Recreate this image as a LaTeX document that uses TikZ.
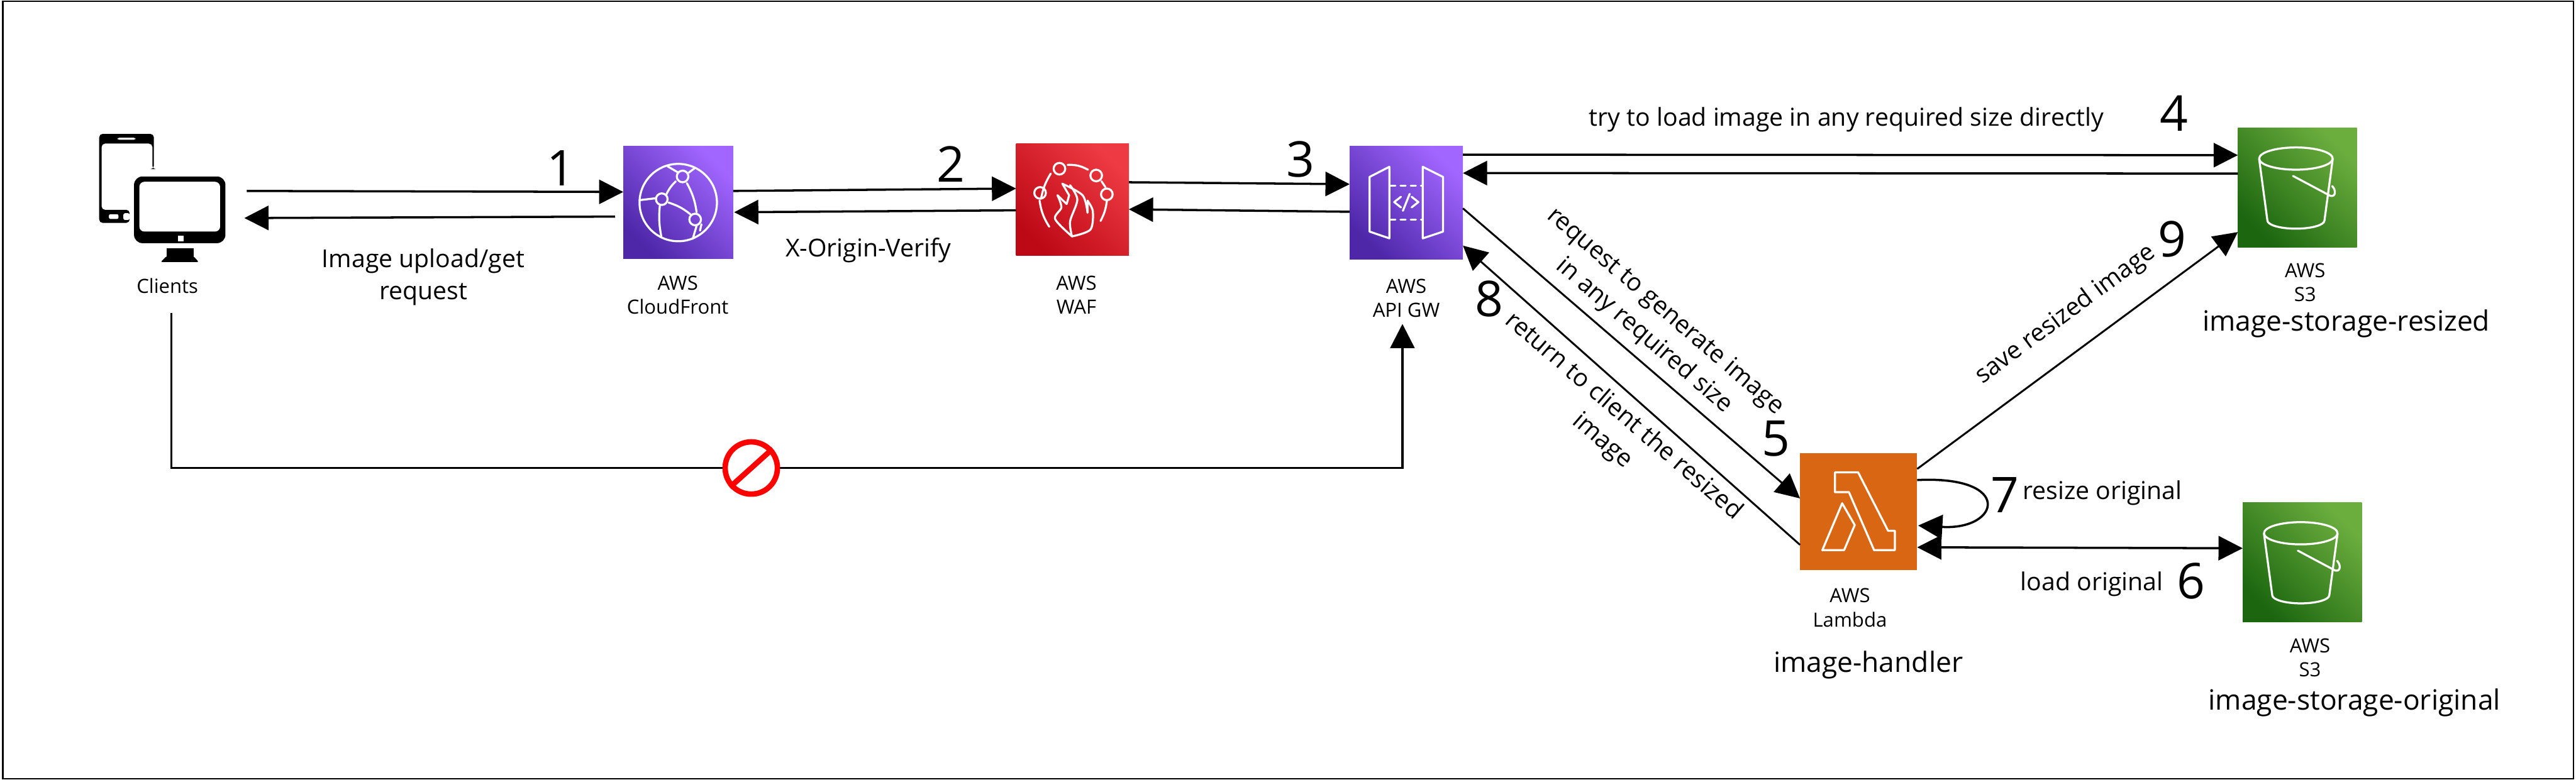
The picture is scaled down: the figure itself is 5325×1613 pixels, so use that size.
\documentclass[tikz,border=0pt]{standalone}
\usepackage{fontspec}
\setmainfont{Open Sans}
\usetikzlibrary{arrows.meta,calc}
\definecolor{purpledark}{HTML}{4D27A8}
\definecolor{purplelight}{HTML}{A166FF}
\definecolor{reddark}{HTML}{BD0816}
\definecolor{redlight}{HTML}{EE3A42}
\definecolor{greendark}{HTML}{1B660F}
\definecolor{greenlight}{HTML}{6CAE3E}
\definecolor{lambdaorange}{HTML}{D86613}
\tikzset{
  service/.style={minimum width=#1, minimum height=#1, inner sep=0pt, outer sep=0pt},
  purplebox/.style={service=2.32cm, top color=purplelight, bottom color=purpledark, shading angle=-45},
  redbox/.style={service=2.32cm, top color=redlight, bottom color=reddark, shading angle=-45},
  greenbox/.style={service=2.46cm, top color=greenlight, bottom color=greendark, shading angle=-45},
  flow/.style={line width=1.3pt, -{Triangle[length=0.5cm, width=0.5cm]}},
  slimflow/.style={flow, line width=1.1pt},
  twoway/.style={flow, {Triangle[length=0.5cm, width=0.5cm]}-{Triangle[length=0.5cm, width=0.5cm]}},
  icon/.style={white, line width=1.2pt, line cap=round, line join=round},
  numlabel/.style={font=\fontsize{29}{30}\selectfont, inner sep=0pt},
  awslabel/.style={font=\fontsize{11.5}{14.2}\selectfont, align=center, inner sep=0pt},
  flowlabel/.style={font=\fontsize{14.5}{19}\selectfont, align=center, inner sep=0pt},
  bucketlabel/.style={font=\fontsize{16.4}{19}\selectfont, inner sep=0pt},
}
\begin{document}
\begin{tikzpicture}[x=0.01cm, y=-0.01cm]
  \useasboundingbox (0,0) rectangle (5325,1613);
  \draw[line width=0.85pt] (6,2.5) rectangle (5320,1611);

  % Service boxes
  \node[service=2.61cm, minimum height=2.65cm] (clients) at (335.5,409.5) {};
  \node[purplebox, minimum width=2.27cm, minimum height=2.33cm] (cloudfront) at (1402,419) {};
  \node[redbox, minimum width=2.33cm] (waf) at (2217,413) {};
  \node[purplebox, minimum width=2.34cm, minimum height=2.34cm] (apigw) at (2907,419) {};
  \node[greenbox] (s3resized) at (4749,388) {};
  \node[service=2.42cm, fill=lambdaorange] (lambda) at (3842,1058) {};
  \node[greenbox] (s3original) at (4759,1163) {};
  \node[circle, draw=red, fill=white, line width=3.2pt, minimum size=1.08cm, inner sep=0pt] (nosign) at (1553,968) {};
  \draw[red, line width=3.2pt] (nosign.222) -- (nosign.42);

  % Clients icon
  \fill[rounded corners=2pt] (205,461) -- (205,277) -- (318,277) -- (318,350) -- (315,350) -- (315,297) -- (210,297) -- (210,434) -- (268,434) -- (268,461) -- cycle;
  \fill[white, rounded corners=1pt] (243,285) rectangle (280,289);
  \fill[white, rounded corners=1pt] (225,443) rectangle (245,453);
  \fill[white, rounded corners=1pt] (255,441) rectangle (268,455);
  \fill[white] (268,360) rectangle (277,470);
  \fill[rounded corners=5pt] (277,365) rectangle (466,503);
  \fill[white, rounded corners=3pt] (288,376) rectangle (455,479);
  \fill[white] (368,487) rectangle (379,499);
  \fill (344,514) rectangle (400,534);
  \fill[rounded corners=1pt] (332,542) -- (344,530) -- (400,530) -- (411,542) -- cycle;

  % CloudFront icon
  \begin{scope}[shift={(cloudfront.center)}]
    \draw[icon] (0,0) circle (80);
    \foreach \nx/\ny in {9/-54, -34/-7, 35/35} {
      \draw[icon] (\nx,\ny) circle (12);
    }
    \draw[icon] (-80,-5) -- (-46,-9);
    \draw[icon] (-25,-16) to[bend left=10] (-5,-44);
    \draw[icon] (-20,0) to[bend left=10] (25,24);
    \draw[icon] (18,-40) to[bend left=10] (38,20);
    \draw[icon] (-38,6) to[bend right=8] (-35,70);
    \draw[icon] (-22,-75) -- (0,-62);
    \draw[icon] (22,-62) -- (35,-72);
    \draw[icon] (38,48) -- (30,75);
    \draw[icon] (48,45) -- (45,58);
  \end{scope}

  % WAF icon
  \begin{scope}[shift={(waf.center)}]
    \foreach \nx/\ny in {-27/-64, 49/-50, -67/-14, 71/-11} {
      \draw[icon] (\nx,\ny) circle (12);
    }
    \draw[icon] (-10,-72) to[bend left=15] (32,-62);
    \draw[icon] (-45,-54) to[bend right=10] (-65,-2);
    \draw[icon] (-68,2) to[bend right=12] (-48,56);
    \draw[icon] (60,-38) -- (68,-26);
    \draw[icon] (71,3) to[bend left=10] (58,44);
    \draw[icon] plot[smooth, tension=0.5] coordinates {(-1,76) (-36,40) (-23,16) (-31,-9)};
    \draw[icon] (-31,-9) -- (-12,9) -- (-7,-9) -- (-21,-33);
    \draw[icon] plot[smooth, tension=0.5] coordinates {(-21,-33) (21,-9) (31,27)};
    \draw[icon] (31,27) -- (31,2);
    \draw[icon] plot[smooth, tension=0.5] coordinates {(31,2) (42,24) (37,62) (-1,76)};
    \draw[icon] plot[smooth, tension=0.5] coordinates {(-1,76) (-5,45) (10,0) (-5,-30)};
  \end{scope}

  % API gateway icon
  \begin{scope}[shift={(apigw.center)}]
    \draw[icon] (-76,-53) -- (-35,-74) -- (-35,74) -- (-76,60) -- cycle;
    \draw[icon] (34,-74) -- (76,-53) -- (76,60) -- (34,74) -- cycle;
    \draw[icon, dash pattern=on 3pt off 3pt] (-33,-35) -- (34,-35);
    \draw[icon, dash pattern=on 3pt off 3pt] (-33,35) -- (34,35);
    \draw[icon] (-11,-12) -- (-25,-1) -- (-11,10);
    \draw[icon] (11,-12) -- (25,-1) -- (11,10);
    \draw[icon] (7,-18) -- (-7,17);
  \end{scope}

  % Lambda icon
  \begin{scope}[shift={(lambda.center)}]
    \draw[icon] (-49,-81) -- (-1,-81) -- (61,40) -- (75,40) -- (75,80) -- (32,80) -- (-20,-40) -- (-49,-40) -- cycle;
    \draw[icon] (-34,-17) -- (-8,28) -- (-30,80) -- (-75,80) -- cycle;
  \end{scope}

  % Bucket icons
  \foreach \bucket in {s3resized, s3original} {
    \begin{scope}[shift={(\bucket.center)}]
      \draw[icon] (-3,-60) circle [x radius=76, y radius=23];
      \draw[icon] (-79,-59) -- (-62,68) arc [start angle=180, end angle=0, x radius=59, y radius=17] -- (73,-59);
      \draw[icon] (-9,-24) -- (68,17) .. controls (80,20) and (80,5) .. (72,-3);
    \end{scope}
  }

  % Arrows along the top
  \draw[flow] ([xshift=.44cm, yshift=.145cm]clients.east) -- ([yshift=.22cm]cloudfront.west);
  \draw[flow] ([xshift=-.17cm, yshift=-.29cm]cloudfront.west) -- ([xshift=.39cm, yshift=-.415cm]clients.east);
  \draw[flow] ([yshift=.24cm]cloudfront.east) -- ([yshift=.23cm]waf.west);
  \draw[flow] ([yshift=-.22cm]waf.west) -- ([xshift=.02cm, yshift=-.20cm]cloudfront.east);
  \draw[flow] ([yshift=.36cm]waf.east) -- ([yshift=.38cm]apigw.west);
  \draw[flow] ([yshift=-.19cm]apigw.west) -- ([yshift=-.20cm]waf.east);
  \draw[flow] ([yshift=.99cm]apigw.east) -- ([yshift=.67cm]s3resized.west);
  \draw[flow] ([yshift=.29cm]s3resized.west) -- ([yshift=.61cm]apigw.east);

  % Arrows around lambda
  \draw[slimflow] ([yshift=-.12cm]apigw.east) -- ([yshift=.27cm]lambda.west);
  \draw[slimflow] ([yshift=-.69cm]lambda.west) -- ([yshift=-.89cm]apigw.east);
  \draw[slimflow] ([yshift=.88cm]lambda.east) -- ([yshift=-.92cm]s3resized.west);
  \draw[flow] ([yshift=.65cm]lambda.east) .. controls +(200,-10) and +(170,10) .. ([xshift=.02cm, yshift=-.29cm]lambda.east);
  \draw[twoway] ([yshift=-.74cm]lambda.east) -- ([yshift=.29cm]s3original.west);

  % Blocked path
  \coordinate (clientsdrop) at (354,648);
  \coordinate (apigwentry) at (2899,670);
  \draw[line width=1.3pt] (clientsdrop) |- (nosign.west);
  \draw[flow] (nosign.east) -| (apigwentry);

  % Service captions
  \node[awslabel] (clientslabel) at (346,591) {Clients};
  \node[awslabel] (cloudfrontlabel) at (1401,610) {AWS\\CloudFront};
  \node[awslabel] (waflabel) at (2225,610) {AWS\\WAF};
  \node[awslabel] (apigwlabel) at (2907,617) {AWS\\API GW};
  \node[awslabel] (s3resizedlabel) at (4765,584) {AWS\\S3};
  \node[awslabel] (lambdalabel) at (3824,1257) {AWS\\Lambda};
  \node[awslabel] (s3originallabel) at (4775,1360) {AWS\\S3};
  \node[bucketlabel] (resizedname) at (4850,669) {image-storage-resized};
  \node[bucketlabel] (handlername) at (3862,1375) {image-handler};
  \node[bucketlabel] (originalname) at (4867,1454) {image-storage-original};

  % Flow captions
  \node[flowlabel] (uploadtext) at (875,573) {Image upload/get\\request};
  \node[flowlabel] (origintext) at (1795,518) {X-Origin-Verify};
  \node[flowlabel] (directtext) at (3817,248) {try to load image in any required size directly};
  \node[flowlabel, rotate=-40.7] (generatetext) at (3420,670) {request to generate image\\in any required size};
  \node[flowlabel, rotate=-40.7] (returntext) at (3334,887) {return to client the resized\\image};
  \node[flowlabel, rotate=36.5] (savetext) at (4270,651) {save resized image};
  \node[flowlabel] (resizetext) at (4346,1020) {resize original};
  \node[flowlabel] (loadtext) at (4324,1208) {load original};

  % Step numbers
  \foreach \stepname/\sx/\sy/\stepnum in {stepa/1160/348/1, stepb/1966/340/2, stepc/2689/330/3, stepd/4494/234/4, stepe/3671/907/5, stepf/4529/1202/6, stepg/4145/1024/7, steph/3078/618/8, stepi/4490/495/9} {
    \node[numlabel] (\stepname) at (\sx,\sy) {\stepnum};
  }
\end{tikzpicture}
\end{document}
